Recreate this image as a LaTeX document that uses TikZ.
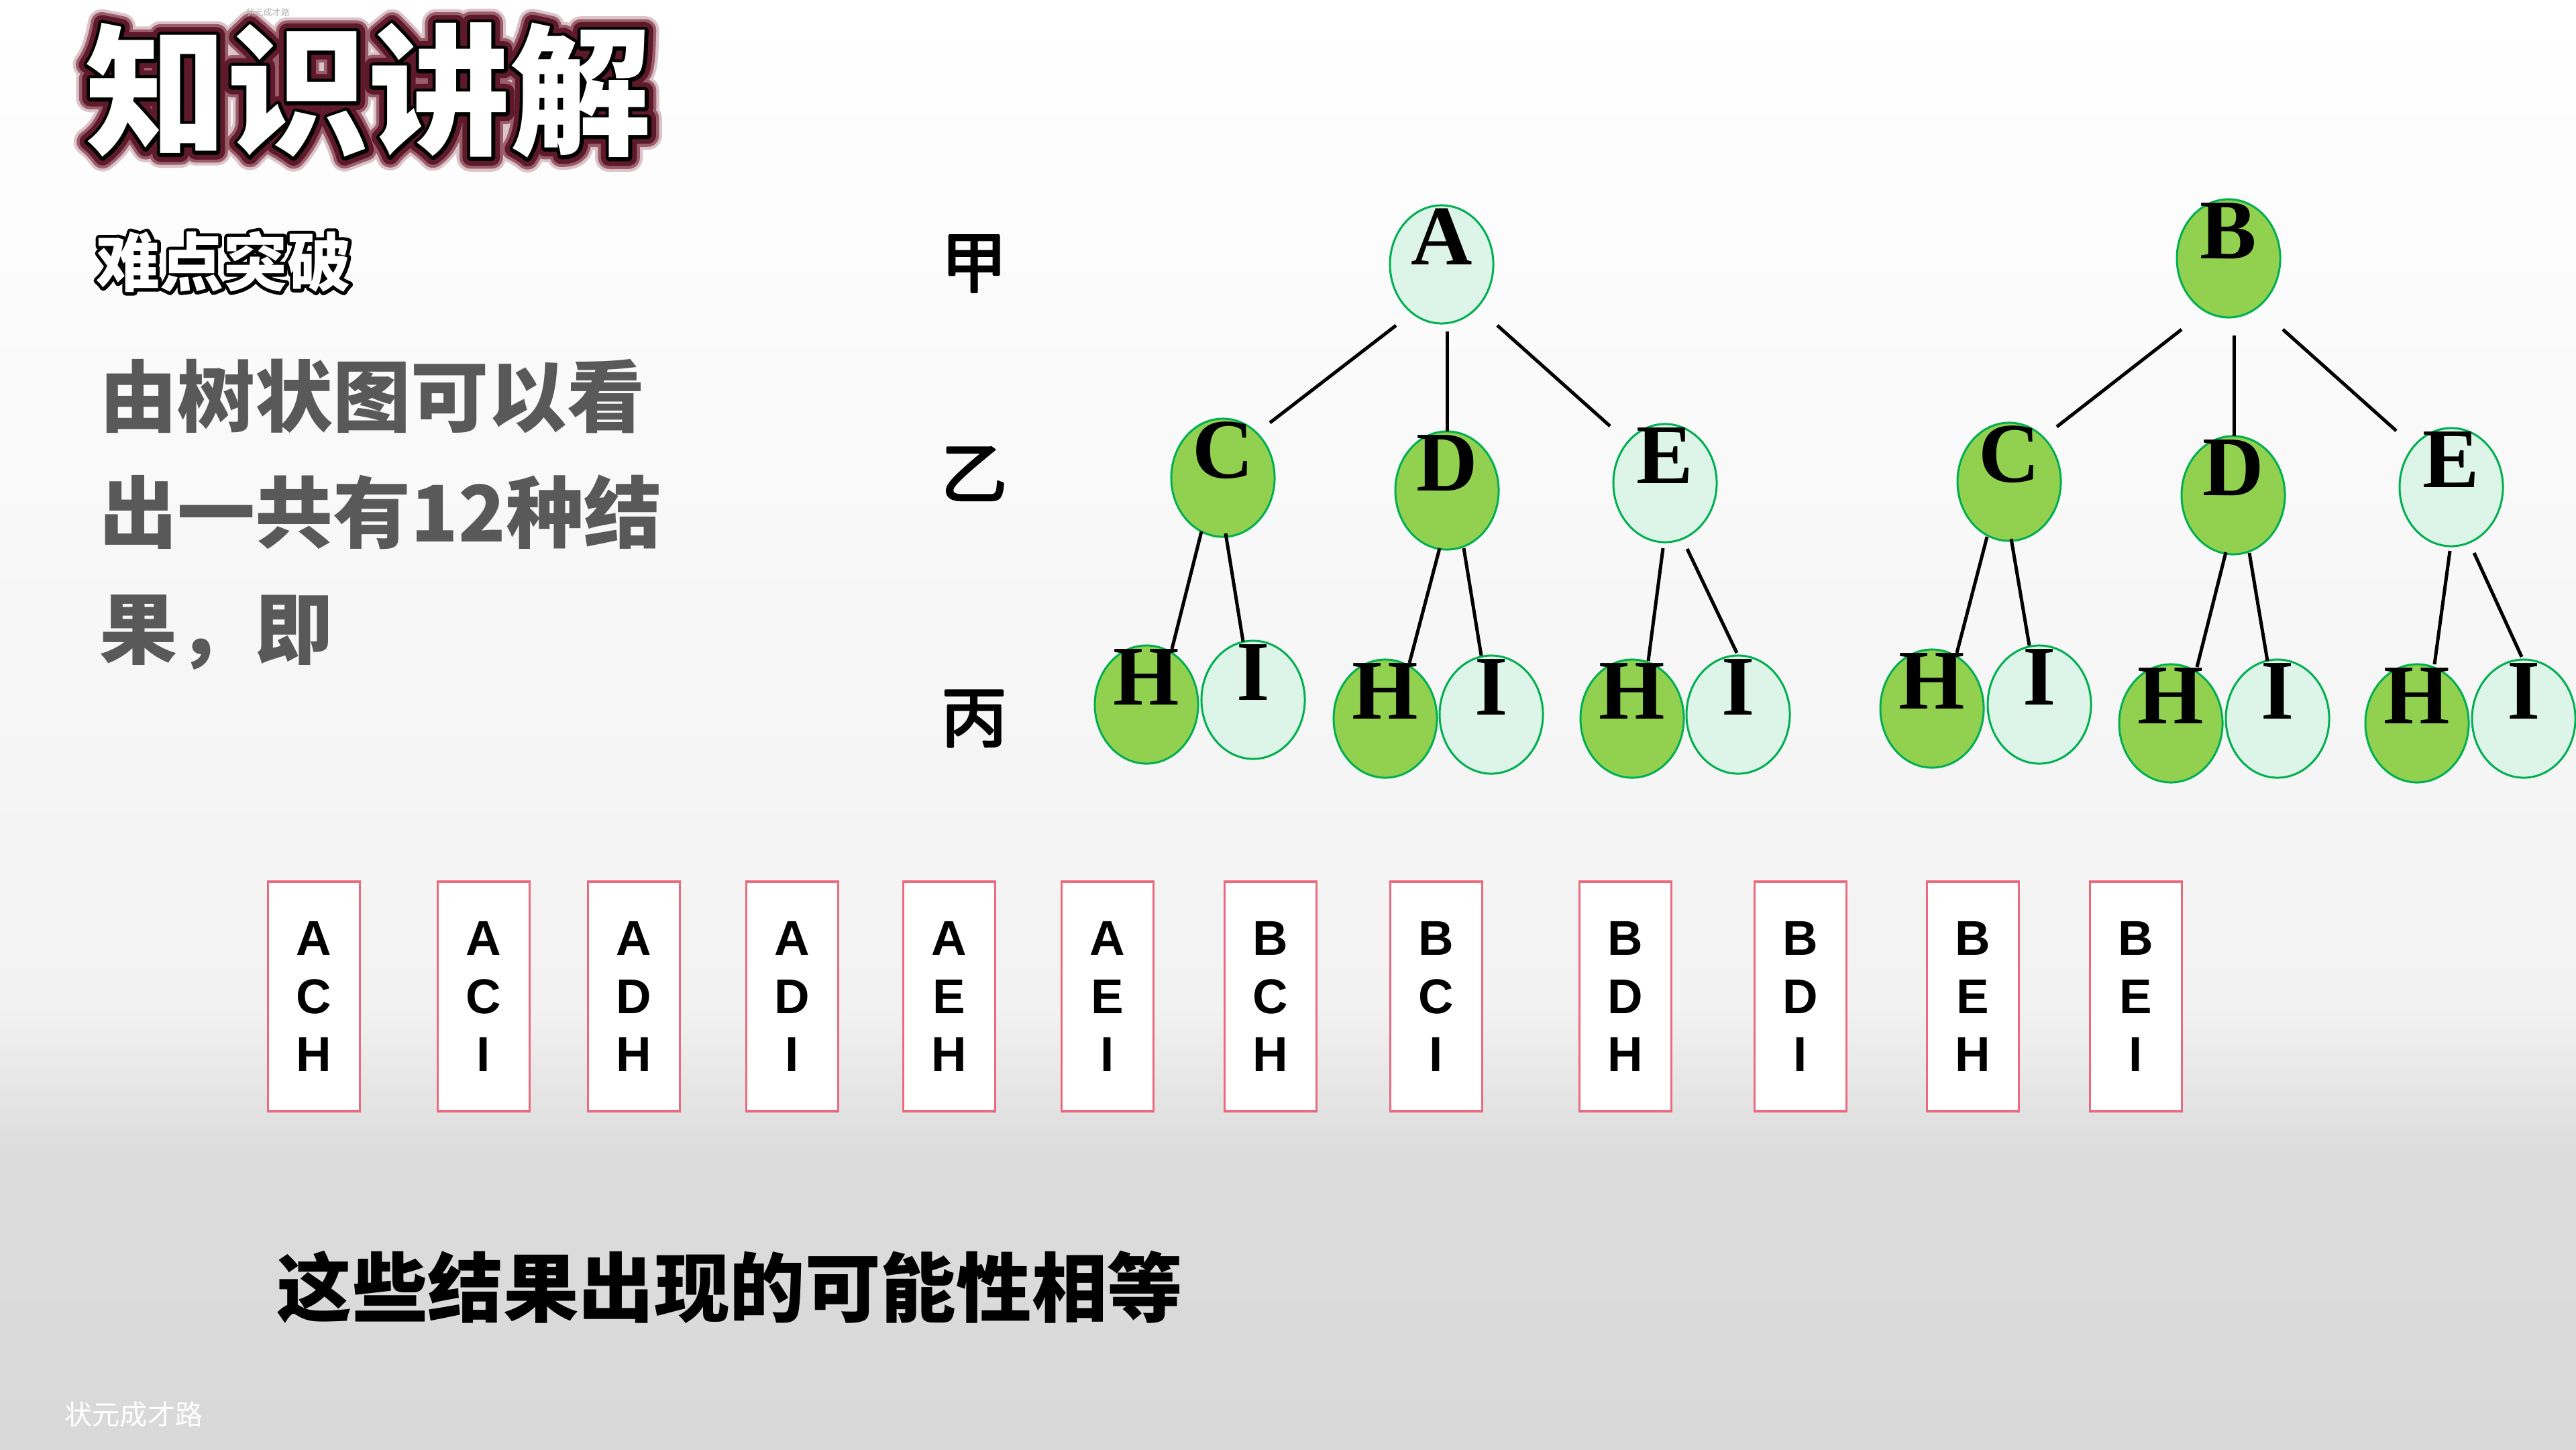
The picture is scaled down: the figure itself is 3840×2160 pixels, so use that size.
\documentclass[tikz,border=0pt]{standalone}
\usepackage{fontspec}
\setmainfont{Liberation Serif}
\newfontfamily\cjk{Noto Sans CJK SC}
\newfontfamily\arialf{Liberation Sans}
\newfontfamily\timesf{Liberation Serif}
\usetikzlibrary{shapes.geometric,calc}
\definecolor{gborder}{HTML}{00B050}
\definecolor{gfill}{HTML}{92D050}
\definecolor{lfill}{HTML}{DDF4E8}
\definecolor{boxred}{HTML}{E96B80}
\definecolor{txtgray}{HTML}{595959}
\definecolor{glowA}{HTML}{5E1A2A}
\definecolor{glowB}{HTML}{9A5E6B}
\definecolor{glowC}{HTML}{DCC3C9}
\definecolor{bgA}{HTML}{F2F2F2}
\definecolor{bgB}{HTML}{DCDCDC}
\definecolor{bgC}{HTML}{D9D9D9}
\newcommand{\strk}[2]{\special{pdf:literal direct 1 Tr #1 w 1 j 1 J}#2\special{pdf:literal direct 0 Tr}}
\newcommand{\semibold}[2]{\special{pdf:literal direct 2 Tr #1 w 1 j}#2\special{pdf:literal direct 0 Tr}}
\begin{document}
\begin{tikzpicture}[x=0.01cm,y=-0.01cm,
  ell/.style={ellipse, draw=gborder, line width=0.03cm, minimum width=1.54cm, minimum height=1.76cm, inner sep=0pt},
  gnode/.style={ell, fill=gfill},
  lnode/.style={ell, fill=lfill},
  lett/.style={font=\timesf\bfseries\fontsize{36}{36}\selectfont, inner sep=0pt, yshift=0.41cm},
  conn/.style={line width=0.05cm, black},
  resbox/.style={draw=boxred, fill=white, line width=0.035cm, minimum width=1.37cm, minimum height=3.42cm, inner sep=0pt, align=center, font=\arialf\bfseries\fontsize{20.7}{24.5}\selectfont},
  stemlbl/.style={font=\cjk\fontsize{28}{28}\selectfont, inner sep=0pt},
  ttl/.style={anchor=west, inner sep=0pt, font=\cjk\bfseries\fontsize{60}{60}\selectfont},
  ndt/.style={anchor=west, inner sep=0pt, font=\cjk\bfseries\fontsize{27}{27}\selectfont},
  para/.style={anchor=west, align=left, inner sep=0pt, text=txtgray, font=\cjk\bfseries\fontsize{33}{49.2}\selectfont}
]
\useasboundingbox (0,0) rectangle (3840,2160);
% background
\shade[top color=white, bottom color=bgA] (0,0) rectangle (3840,1500);
\shade[top color=bgA, bottom color=bgB] (0,1499) rectangle (3840,1720);
\shade[top color=bgB, bottom color=bgC] (0,1719) rectangle (3840,2160);

% title with glow and outline (stroked text layers)
\node[ttl, text=glowC] (titleglow3) at (127,135) {\strk{12}{知识讲解}};
\node[ttl, text=glowB] (titleglow2) at (127,135) {\strk{9.5}{知识讲解}};
\node[ttl, text=glowA] (titleglow1) at (127,135) {\strk{7}{知识讲解}};
\node[ttl, text=black] (titleline) at (127,135) {\strk{3}{知识讲解}};
\node[ttl, text=white] (title) at (127,135) {知识讲解};
\node[anchor=west, inner sep=0pt, text=gray!60, font=\cjk\fontsize{3.7}{4}\selectfont] (wmtop) at (366,19) {状元成才路};

% subtitle outlined
\node[ndt, text=black] (nandianline) at (143,390) {\strk{2.8}{难点突破}};
\node[ndt, text=white] (nandian) at (143,390) {难点突破};

% paragraph
\node[para] (para) at (148,767) {由树状图可以看\\出一共有12种结\\果，即};

% level labels
\node[stemlbl] (jia) at (1452,393) {\semibold{0.9}{甲}};
\node[stemlbl] (yi) at (1452,706) {\semibold{0.9}{乙}};
\node[stemlbl] (bing) at (1452,1071) {\semibold{0.9}{丙}};

% left tree
\node[lnode, label={[lett]center:A}] (A) at (2149,394) {};
\node[gnode, label={[lett]center:C}] (lC) at (1823,712) {};
\node[gnode, label={[lett]center:D}] (lD) at (2157,731) {};
\node[lnode, label={[lett]center:E}] (lE) at (2482,720) {};
\node[gnode, label={[lett]center:H}] (lCH) at (1709,1050) {};
\node[lnode, label={[lett]center:I}] (lCI) at (1868,1043) {};
\node[gnode, label={[lett]center:H}] (lDH) at (2065,1071) {};
\node[lnode, label={[lett]center:I}] (lDI) at (2223,1065) {};
\node[gnode, label={[lett]center:H}] (lEH) at (2433,1071) {};
\node[lnode, label={[lett]center:I}] (lEI) at (2591,1065) {};

% right tree
\node[gnode, label={[lett]center:B}] (B) at (3322,385) {};
\node[gnode, label={[lett]center:C}] (rC) at (2995,718) {};
\node[gnode, label={[lett]center:D}] (rD) at (3329,738) {};
\node[lnode, label={[lett]center:E}] (rE) at (3654,726) {};
\node[gnode, label={[lett]center:H}] (rCH) at (2880,1056) {};
\node[lnode, label={[lett]center:I}] (rCI) at (3040,1050) {};
\node[gnode, label={[lett]center:H}] (rDH) at (3236,1078) {};
\node[lnode, label={[lett]center:I}] (rDI) at (3395,1071) {};
\node[gnode, label={[lett]center:H}] (rEH) at (3603,1078) {};
\node[lnode, label={[lett]center:I}] (rEI) at (3762,1071) {};

% left connectors
\draw[conn] ($(A)+(-68,91)$) -- ($(lC)+(70,-82)$);
\draw[conn] ($(A)+(8,100)$) -- ($(lD)+(0,-88)$);
\draw[conn] ($(A)+(83,91)$) -- ($(lE)+(-82,-85)$);
\draw[conn] ($(lC)+(-32,80)$) -- ($(lCH)+(38,-83)$);
\draw[conn] ($(lC)+(4,83)$) -- ($(lCI)+(-15,-87)$);
\draw[conn] ($(lD)+(-11,86)$) -- ($(lDH)+(36,-83)$);
\draw[conn] ($(lD)+(25,86)$) -- ($(lDI)+(-15,-88)$);
\draw[conn] ($(lE)+(-3,97)$) -- ($(lEH)+(24,-86)$);
\draw[conn] ($(lE)+(33,98)$) -- ($(lEI)+(-2,-92)$);

% right connectors
\draw[conn] ($(B)+(-70,106)$) -- ($(rC)+(71,-82)$);
\draw[conn] ($(B)+(8,115)$) -- ($(rD)+(1,-88)$);
\draw[conn] ($(B)+(81,106)$) -- ($(rE)+(-82,-84)$);
\draw[conn] ($(rC)+(-33,82)$) -- ($(rCH)+(37,-83)$);
\draw[conn] ($(rC)+(3,85)$) -- ($(rCI)+(-15,-88)$);
\draw[conn] ($(rD)+(-11,85)$) -- ($(rDH)+(39,-84)$);
\draw[conn] ($(rD)+(24,86)$) -- ($(rDI)+(-15,-86)$);
\draw[conn] ($(rE)+(-2,95)$) -- ($(rEH)+(26,-88)$);
\draw[conn] ($(rE)+(34,98)$) -- ($(rEI)+(-3,-92)$);

% result boxes
\foreach \x/\lbl [count=\i] in {468/{A\\C\\H}, 721/{A\\C\\I}, 945/{A\\D\\H}, 1181/{A\\D\\I}, 1415/{A\\E\\H}, 1651/{A\\E\\I}, 1894/{B\\C\\H}, 2141/{B\\C\\I}, 2423/{B\\D\\H}, 2684/{B\\D\\I}, 2941/{B\\E\\H}, 3184/{B\\E\\I}} {
  \node[resbox] (res\i) at (\x,1485) {\lbl};
}

% conclusion
\node[anchor=west, inner sep=0pt, font=\cjk\bfseries\fontsize{32}{32}\selectfont] (concl) at (412,1918) {这些结果出现的可能性相等};

% watermark
\node[anchor=west, inner sep=0pt, text=white, font=\cjk\fontsize{11.7}{12}\selectfont] (wm) at (96,2108) {状元成才路};
\end{tikzpicture}
\end{document}
